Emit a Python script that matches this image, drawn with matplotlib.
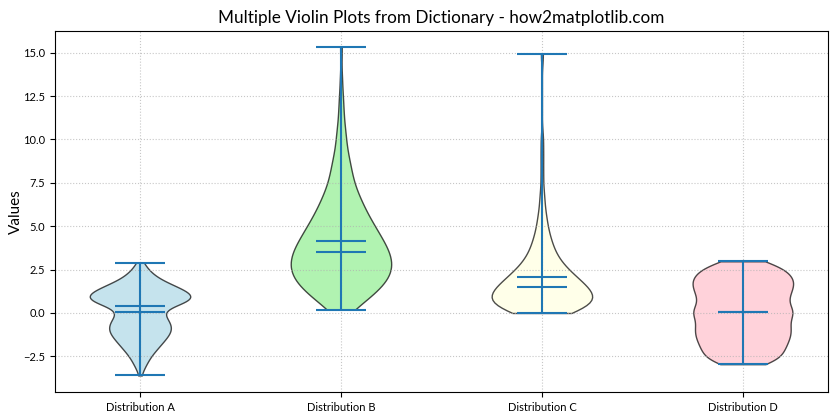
import numpy as np
import matplotlib
matplotlib.use("Agg")
import matplotlib.pyplot as plt

plt.rcParams['font.family'] = ['Lato', 'DejaVu Sans']

# values (bin value, count)
names = ['Distribution A', 'Distribution B', 'Distribution C', 'Distribution D']
colors = ['lightblue', 'lightgreen', 'lightyellow', 'pink']

a_vals = [-3.6, -3.25, -3.0, -2.75, -2.5, -2.25, -2.0, -1.75, -1.5, -1.25, -1.0, -0.75,
          -0.5, -0.25, 0.0, 0.4, 0.6, 0.8, 1.0, 1.25, 1.5, 1.75, 2.0, 2.25, 2.5, 2.75, 2.9]
a_counts = [1, 1, 3, 3, 4, 6, 7, 9, 10, 12, 13, 13,
            12, 10, 11, 13, 15, 19, 21, 19, 16, 10, 7, 5, 3, 2, 1]

b_vals = [0.2, 0.5, 1.0, 1.5, 2.0, 2.5, 3.0, 3.5, 4.0, 4.5, 5.0, 5.5, 6.0,
          6.5, 7.0, 7.5, 8.0, 8.5, 9.0, 9.5, 10.0, 10.5, 11.0, 11.5, 12.0,
          12.5, 13.5, 15.3]
b_counts = [3, 7, 12, 16, 19, 20, 20, 19, 17, 15, 13, 11, 9,
            8, 6, 5, 4, 4, 3, 2, 2, 2, 1, 1, 1,
            1, 1, 1]

c_vals = [0.0, 0.5, 1.0, 1.5, 2.0, 2.5, 3.0, 3.5, 4.0, 4.5, 5.0, 5.5, 6.0,
          6.5, 7.0, 8.0, 9.0, 10.0, 14.9]
c_counts = [12, 22, 21, 18, 14, 10, 7, 5, 4, 3, 2, 2, 1,
            1, 1, 1, 1, 1, 1]

d_vals = [-2.95, -2.75, -2.25, -1.75, -1.25, -0.75, -0.25, 0.05, 0.25, 0.75, 1.25,
          1.75, 2.25, 2.75, 2.98]
d_counts = [1, 9, 10, 11, 12, 12, 10, 4, 10, 11, 12, 13, 12, 9, 1]

data = {
    names[0]: np.repeat(a_vals, a_counts),
    names[1]: np.repeat(b_vals, b_counts),
    names[2]: np.repeat(c_vals, c_counts),
    names[3]: np.repeat(d_vals, d_counts),
}

fig, ax = plt.subplots(figsize=(8.4, 4.2), dpi=100)
parts = ax.violinplot(list(data.values()), showmeans=True, showmedians=True,
                      bw_method=0.25)

for body, color in zip(parts['bodies'], colors):
    body.set_facecolor(color)
    body.set_edgecolor('black')
    body.set_alpha(0.7)

ax.set_xticks(range(1, len(data) + 1))
ax.set_xticklabels(list(data.keys()), fontsize=8)
ax.tick_params(axis='y', labelsize=8)
ax.set_ylabel('Values', fontsize=11, labelpad=0)
ax.set_title('Multiple Violin Plots from Dictionary - how2matplotlib.com', fontsize=12.3)
ax.grid(True, linestyle=':', alpha=0.7)

plt.subplots_adjust(left=0.065, right=0.986, top=0.926, bottom=0.067)
plt.savefig('out.png')
